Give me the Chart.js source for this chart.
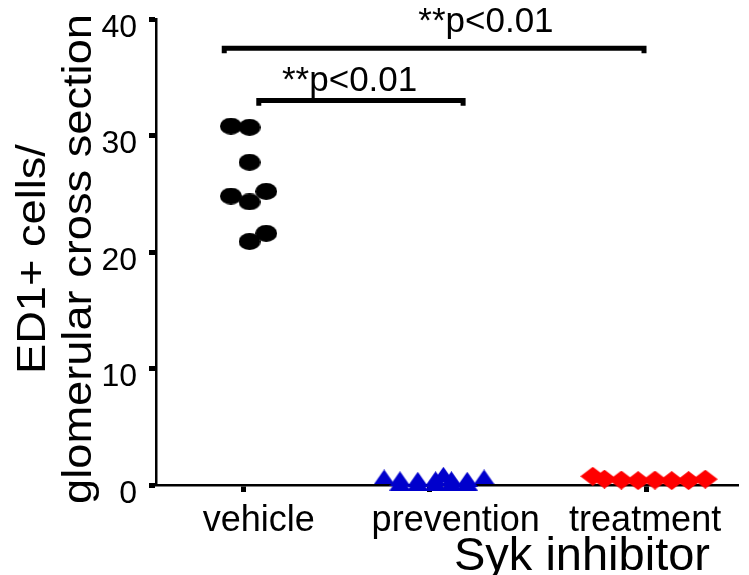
<!DOCTYPE html>
<html>
<head>
<meta charset="utf-8">
<script src="https://cdn.jsdelivr.net/npm/chart.js@4"></script>
<style>
  html, body { margin: 0; padding: 0; background: #fff; }
</style>
</head>
<body>
<canvas id="chart" width="749" height="575"></canvas>
<script>
// groups on the x axis and where each one sits on the linear scale
const categories = ['vehicle', 'prevention', 'treatment'];
const groupX = [1, 2, 3.17];
const labelX = [1.08, 2.14, 3.16]; // label centres (not quite under the ticks in the original)
const yTicks = [0, 10, 20, 30, 40];

// ED1+ cells per glomerular cross section, one point per animal
const vehicleX = [0.93, 1.03, 1.03, 0.93, 1.03, 1.12, 1.03, 1.12];
const vehicleY = [30.8, 30.7, 27.7, 24.8, 24.3, 25.2, 20.9, 21.6];

const preventionX = [1.84, 1.936, 2.032, 2.117, 2.202, 1.755, 1.84, 1.936, 2.032, 2.074, 2.117, 2.202, 2.293];
const preventionY = [0.17, 0.17, 0.17, 0.17, 0.17, 0.69, 0.54, 0.49, 0.54, 0.92, 0.54, 0.49, 0.69];

const treatmentX = [2.878, 2.941, 3.032, 3.122, 3.213, 3.303, 3.394, 3.484];
const treatmentY = [0.75, 0.5, 0.42, 0.38, 0.42, 0.38, 0.38, 0.5];

// significance brackets
const sigFrom = [1.08, 0.894];
const sigTo = [2.18, 3.154];
const sigY = [33.0, 37.5];
const sigText = ['**p<0.01', '**p<0.01'];
const sigTextX = [1.569, 2.303];
const sigTextY = [33.8, 38.9];

const yTitle = ['ED1+ cells/', 'glomerular cross section'];
const xTitle = 'Syk inhibitor';
const xTitleAt = 2.82;

const FONT = '"Liberation Sans", Arial, sans-serif';

function points(xs, ys) {
    return xs.map((v, i) => ({ x: v, y: ys[i] }));
}

// small canvases used as point styles (the original markers are a bit flattened)
function makeMarker(w, h, color, shape) {
    const c = document.createElement('canvas');
    c.width = w;
    c.height = h;
    const g = c.getContext('2d');
    g.fillStyle = color;
    g.beginPath();
    if (shape === 'ellipse') {
        g.ellipse(w / 2, h / 2, w / 2, h / 2, 0, 0, Math.PI * 2);
    } else if (shape === 'triangle') {
        g.moveTo(w / 2, 0);
        g.lineTo(w, h);
        g.lineTo(0, h);
        g.closePath();
    } else {
        g.moveTo(w / 2, 0);
        g.lineTo(w, h / 2);
        g.lineTo(w / 2, h);
        g.lineTo(0, h / 2);
        g.closePath();
    }
    g.fill();
    return c;
}

const dot = makeMarker(22, 17, '#000000', 'ellipse');
const tri = makeMarker(21, 15, '#0000cc', 'triangle');
const diamond = makeMarker(25, 19, '#ff0000', 'diamond');

function groupDataset(label, xs, ys, style) {
    return {
        label: label,
        data: points(xs, ys),
        pointStyle: style,
        pointRadius: 10,
        clip: false
    };
}

function bracketDataset(i) {
    const drop = 0.45;
    return {
        type: 'line',
        data: [
            { x: sigFrom[i], y: sigY[i] - drop },
            { x: sigFrom[i], y: sigY[i] },
            { x: sigTo[i], y: sigY[i] },
            { x: sigTo[i], y: sigY[i] - drop }
        ],
        borderColor: '#000',
        borderWidth: 5,
        pointRadius: 0,
        fill: false,
        clip: false
    };
}

// text that sits at odd places in the original figure
const textPlugin = {
    id: 'figureText',
    afterDraw(chart) {
        const { ctx, chartArea } = chart;
        const x = chart.scales.x;
        const y = chart.scales.y;
        ctx.save();
        ctx.fillStyle = '#000';
        ctx.textAlign = 'center';
        ctx.textBaseline = 'alphabetic';

        ctx.font = '36px ' + FONT;
        categories.forEach((c, i) => {
            ctx.fillText(c, x.getPixelForValue(labelX[i]), chartArea.bottom + 46);
        });

        ctx.font = '47px ' + FONT;
        ctx.fillText(xTitle, x.getPixelForValue(xTitleAt), chartArea.bottom + 85);

        ctx.font = '35px ' + FONT;
        sigText.forEach((t, i) => {
            ctx.fillText(t, x.getPixelForValue(sigTextX[i]), y.getPixelForValue(sigTextY[i]));
        });

        // y title is tall in the original, so stretch it a little along its length
        ctx.font = '40px ' + FONT;
        ctx.textBaseline = 'middle';
        const midY = (chartArea.top + chartArea.bottom) / 2 + 7;
        yTitle.forEach((t, i) => {
            ctx.save();
            ctx.translate(34 + i * 46, midY);
            ctx.rotate(-Math.PI / 2);
            ctx.scale(1.13, 1);
            ctx.fillText(t, 0, 0);
            ctx.restore();
        });
        ctx.restore();
    }
};

const chart = new Chart(document.getElementById('chart').getContext('2d'), {
    type: 'scatter',
    data: {
        datasets: [
            bracketDataset(0),
            bracketDataset(1),
            groupDataset('vehicle', vehicleX, vehicleY, dot),
            groupDataset('prevention', preventionX, preventionY, tri),
            groupDataset('treatment', treatmentX, treatmentY, diamond)
        ]
    },
    options: {
        responsive: false,
        animation: false,
        layout: { padding: { left: 0, right: 4, top: 19, bottom: 0 } },
        plugins: {
            legend: { display: false },
            tooltip: { enabled: false }
        },
        scales: {
            x: {
                type: 'linear',
                min: 0.5266,
                max: 3.66,
                z: 1,
                afterBuildTicks: s => { s.ticks = groupX.map(v => ({ value: v })); },
                afterFit: s => { s.height = 90; s.paddingLeft = 0; s.paddingRight = 0; },
                ticks: { autoSkip: false, callback: () => '' },
                grid: { drawOnChartArea: false, tickLength: 7, tickWidth: 5, tickColor: '#000' },
                border: { display: true, color: '#000', width: 2.5 }
            },
            y: {
                min: 0,
                max: 40,
                afterBuildTicks: s => { s.ticks = yTicks.map(v => ({ value: v })); },
                afterFit: s => { s.width = 156; s.paddingTop = 0; s.paddingBottom = 0; },
                ticks: { font: { family: FONT, size: 32 }, color: '#000', padding: 12, labelOffset: 9 },
                grid: { drawOnChartArea: false, tickLength: 7, tickWidth: 5, tickColor: '#000' },
                border: { display: true, color: '#000', width: 2.5 }
            }
        }
    },
    plugins: [textPlugin]
});
</script>
</body>
</html>
